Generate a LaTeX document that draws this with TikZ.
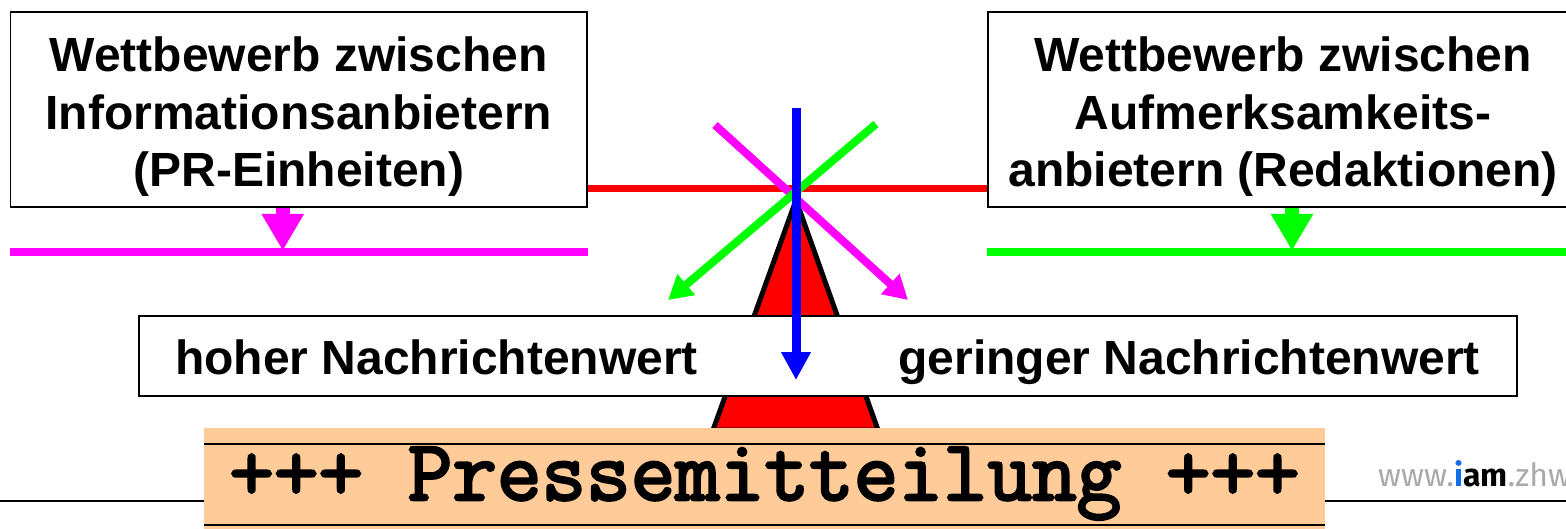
\documentclass[tikz,border=0pt]{standalone}
\usepackage{fontspec}
\setmainfont{Liberation Sans}
\newfontfamily\urlfont{Fira Sans}
\newfontfamily\pressfont[FakeBold=3]{Latin Modern Mono}
\usetikzlibrary{arrows.meta}
\definecolor{bandorange}{RGB}{255,204,153}
\definecolor{urlgray}{RGB}{170,170,170}
\definecolor{urlblue}{RGB}{20,110,235}
\definecolor{mag}{RGB}{255,0,255}
\definecolor{grn}{RGB}{0,255,0}
\definecolor{blu}{RGB}{0,0,255}
\tikzset{
  framebox/.style={draw=black, line width=1.5pt, fill=white, inner sep=0pt},
  bigtext/.style={align=center, inner sep=0pt, font=\fontsize{48}{57.5}\selectfont\bfseries},
  midtext/.style={inner sep=0pt, font=\fontsize{48}{57.5}\selectfont\bfseries},
  downarrow/.style={line width=14pt, -{Triangle[length=37pt,width=40pt]}},
  diagarrow/.style={line width=8pt, -{Triangle[length=24pt,width=26pt]}},
  hline/.style={line width=8pt},
}
\begin{document}
\begin{tikzpicture}[x=1pt,y=-1pt]
\useasboundingbox (0,0) rectangle (1566,528);
\clip (0,0) rectangle (1566,528);
% slide line
\coordinate (sl1) at (0,501);
\coordinate (sl2) at (1566,501);
\draw[line width=2pt] (sl1) -- (sl2);
% top boxes
\node[framebox, minimum width=576.5pt, minimum height=195pt] (L) at (298.75,109.5) {};
\node[bigtext] (Lt) at (298.75,117) {Wettbewerb zwischen\\Informationsanbietern\\(PR-Einheiten)};
\node[framebox, minimum width=590pt, minimum height=195pt] (R) at (1283,109.5) {};
\node[bigtext] (Rt) at (1283,117) {Wettbewerb zwischen\\Aufmerksamkeits-\\anbietern (Redaktionen)};
% lines under boxes
\coordinate (hl) at (0,252);
\draw[hline, mag] (L.south west |- hl) -- (L.south east |- hl);
\draw[hline, grn] (R.south west |- hl) -- (R.south east |- hl);
\draw[downarrow, mag] ([xshift=-16pt]L.south) -- ++(0,43);
\draw[downarrow, grn] ([xshift=9pt]R.south) -- ++(0,43);
% red beam
\coordinate (beam) at (796,188);
\draw[red, line width=7pt] (L.east |- beam) -- (R.west |- beam);
% triangle (scale support)
\draw[fill=red, draw=black, line width=5pt, line join=miter] (796,200) -- (713,430) -- (878,430) -- cycle;
% middle box
\node[framebox, minimum width=1378pt, minimum height=80pt] (M) at (828,356) {};
\node[midtext, anchor=base west] (hoch) at (175,374) {hoher Nachrichtenwert};
\node[midtext, anchor=base east] (gering) at (1480,374) {geringer Nachrichtenwert};
% crossing arrows
\coordinate (m1) at (715,125);
\coordinate (m2) at (908,300);
\coordinate (g1) at (876,124);
\coordinate (g2) at (668,300);
\coordinate (b1) at (796,108);
\coordinate (b2) at (796,380);
\draw[diagarrow, mag] (m1) -- (m2);
\draw[diagarrow, grn] (g1) -- (g2);
\draw[blu, line width=9pt, -{Triangle[length=28pt,width=28pt]}] (b1) -- (b2);
% press release band
\fill[bandorange] (204,428) rectangle (1325,530);
\coordinate (t1) at (204,444);
\coordinate (t2) at (1325,444);
\coordinate (u1) at (204,525);
\coordinate (u2) at (1325,525);
\draw[line width=2pt] (t1) -- (t2);
\draw[line width=2pt] (u1) -- (u2);
\node[inner sep=0pt, anchor=base, font=\fontsize{86.6}{90}\selectfont\pressfont] (press) at (764.5,500) {+++ Pressemitteilung +++};
% url
\node[inner sep=0pt, anchor=base west, font=\fontsize{32}{36}\selectfont\urlfont] (url) at (1378,486)
  {\textcolor{urlgray}{www.}\textcolor{urlblue}{\bfseries i}\textcolor{black}{\bfseries am}\textcolor{urlgray}{.zhw}};
\end{tikzpicture}
\end{document}
